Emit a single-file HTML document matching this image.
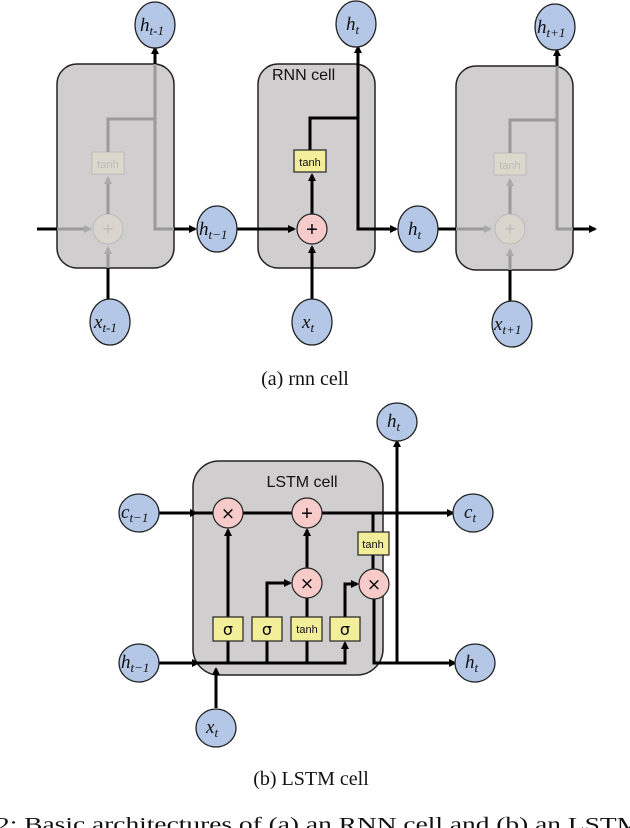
<!DOCTYPE html>
<html><head><meta charset="utf-8"><style>
html,body{margin:0;padding:0;background:#fff;width:630px;height:828px;overflow:hidden}
svg{display:block}
.c{fill:#b4c7e7;stroke:#222;stroke-width:1.3}
.lbl{font-family:"Liberation Serif",serif;font-style:italic;font-size:19px;fill:#111}
.sub{font-size:13px}
.box{fill:#d0cece;stroke:#222;stroke-width:1.5}
.y{fill:#f3ee9a;stroke:#222;stroke-width:1.2}
.p{fill:#f8cbcb;stroke:#222;stroke-width:1.2}
.k{stroke:#000;stroke-width:3;fill:none}
.g{stroke:#9a9a9a;stroke-width:3;fill:none}
.sm{font-family:"Liberation Sans",sans-serif;font-size:11px;fill:#111}
.cap{font-family:"Liberation Serif",serif;font-size:20px;fill:#111}
</style></head><body>
<svg width="630" height="828" viewBox="0 0 630 828" xmlns="http://www.w3.org/2000/svg">
<defs>
<marker id="a" markerWidth="8" markerHeight="8" refX="6" refY="4" orient="auto" markerUnits="userSpaceOnUse"><path d="M0,0 L8,4 L0,8z" fill="#000"/></marker>
<marker id="ga" markerWidth="8" markerHeight="8" refX="6" refY="4" orient="auto" markerUnits="userSpaceOnUse"><path d="M0,0 L8,4 L0,8z" fill="#aaa"/></marker>
</defs>
<rect class="box" x="57" y="64" width="117" height="204" rx="20"/>
<rect class="box" x="258" y="64" width="117" height="204" rx="20"/>
<rect class="box" x="456" y="66" width="117" height="204" rx="20"/>
<text x="272" y="80" font-family="Liberation Sans,sans-serif" font-size="16" fill="#111">RNN cell</text>
<line class="k" x1="37" y1="229" x2="57" y2="229"/>
<line class="g" x1="57" y1="229" x2="90" y2="229" marker-end="url(#ga)"/>
<circle cx="108" cy="229" r="15" fill="#d9d4cc" stroke="#bbb" stroke-width="1"/>
<text x="108" y="235" text-anchor="middle" font-size="18" fill="#bbb" font-family="Liberation Sans,sans-serif">+</text>
<line class="g" x1="108" y1="214" x2="108" y2="178" marker-end="url(#ga)"/>
<rect x="92" y="152" width="32" height="22" fill="#ddd8cc" stroke="#bbb"/>
<text x="108" y="168" text-anchor="middle" class="sm" style="fill:#bbb">tanh</text>
<polyline class="g" points="108,152 108,119 155,119"/>
<polyline class="g" points="155,64 155,229 174,229"/>
<line class="k" x1="174" y1="229" x2="195" y2="229" marker-end="url(#a)"/>
<line class="k" x1="155" y1="64" x2="155" y2="48" marker-end="url(#a)"/>
<line class="k" x1="108" y1="302" x2="108" y2="268"/>
<line class="g" x1="108" y1="268" x2="108" y2="248" marker-end="url(#ga)"/>
<line class="k" x1="236" y1="229" x2="294" y2="229" marker-end="url(#a)"/>
<line class="k" x1="312" y1="302" x2="312" y2="247" marker-end="url(#a)"/>
<line class="k" x1="312" y1="214" x2="312" y2="175" marker-end="url(#a)"/>
<polyline class="k" points="310,150 310,118 358,118"/>
<line class="k" x1="358" y1="118" x2="358" y2="47" marker-end="url(#a)"/>
<polyline class="k" points="358,118 358,229 396,229" marker-end="url(#a)"/>
<circle class="p" cx="312" cy="229" r="15"/>
<text x="312" y="236" text-anchor="middle" font-size="20" font-family="Liberation Sans,sans-serif">+</text>
<rect class="y" x="294" y="150" width="32" height="22"/>
<text x="310" y="166" text-anchor="middle" class="sm">tanh</text>
<line class="k" x1="438" y1="229" x2="456" y2="229"/>
<line class="g" x1="456" y1="229" x2="490" y2="229" marker-end="url(#ga)"/>
<circle cx="510" cy="229" r="15" fill="#d9d4cc" stroke="#bbb" stroke-width="1"/>
<text x="510" y="235" text-anchor="middle" font-size="18" fill="#bbb" font-family="Liberation Sans,sans-serif">+</text>
<line class="g" x1="510" y1="214" x2="510" y2="180" marker-end="url(#ga)"/>
<rect x="494" y="153" width="32" height="22" fill="#ddd8cc" stroke="#bbb"/>
<text x="510" y="169" text-anchor="middle" class="sm" style="fill:#bbb">tanh</text>
<polyline class="g" points="510,153 510,120 557,120"/>
<polyline class="g" points="557,66 557,229 573,229"/>
<line class="k" x1="573" y1="229" x2="595" y2="229" marker-end="url(#a)"/>
<line class="k" x1="557" y1="66" x2="557" y2="50" marker-end="url(#a)"/>
<line class="k" x1="510" y1="304" x2="510" y2="270"/>
<line class="g" x1="510" y1="270" x2="510" y2="250" marker-end="url(#ga)"/>
<g>
<ellipse class="c" cx="155" cy="25" rx="20" ry="23"/><text class="lbl" x="140" y="31">h<tspan class="sub" dy="4">t-1</tspan></text>
<ellipse class="c" cx="356" cy="24" rx="20" ry="23"/><text class="lbl" x="346" y="30">h<tspan class="sub" dy="4">t</tspan></text>
<ellipse class="c" cx="555" cy="27" rx="20" ry="23"/><text class="lbl" x="537" y="33">h<tspan class="sub" dy="4">t+1</tspan></text>
<ellipse class="c" cx="217" cy="229" rx="20" ry="23"/><text class="lbl" x="199" y="235">h<tspan class="sub" dy="4">t−1</tspan></text>
<ellipse class="c" cx="418" cy="229" rx="20" ry="23"/><text class="lbl" x="408" y="235">h<tspan class="sub" dy="4">t</tspan></text>
<ellipse class="c" cx="110" cy="322" rx="20" ry="23"/><text class="lbl" x="94" y="328">x<tspan class="sub" dy="4">t-1</tspan></text>
<ellipse class="c" cx="312" cy="322" rx="20" ry="23"/><text class="lbl" x="302" y="328">x<tspan class="sub" dy="4">t</tspan></text>
<ellipse class="c" cx="512" cy="324" rx="20" ry="23"/><text class="lbl" x="494" y="330">x<tspan class="sub" dy="4">t+1</tspan></text>
</g>
<text class="cap" x="305" y="385" text-anchor="middle">(a) rnn cell</text>
<rect class="box" x="193" y="461" width="190" height="214" rx="26"/>
<text x="302" y="487" text-anchor="middle" font-family="Liberation Sans,sans-serif" font-size="16" fill="#111">LSTM cell</text>
<line class="k" x1="159" y1="513" x2="196" y2="513" marker-end="url(#a)"/>
<line class="k" x1="196" y1="513" x2="453" y2="513" marker-end="url(#a)"/>
<polyline class="k" points="373,513 373,569"/>
<polyline class="k" points="374,599 374,663 455,663" marker-end="url(#a)"/>
<line class="k" x1="397" y1="663" x2="397" y2="441" marker-end="url(#a)"/>
<line class="k" x1="159" y1="663" x2="198" y2="663" marker-end="url(#a)"/>
<polyline class="k" points="198,663 345,663 345,643" marker-end="url(#a)"/>
<line class="k" x1="228" y1="663" x2="228" y2="641"/>
<line class="k" x1="228" y1="617" x2="228" y2="530" marker-end="url(#a)"/>
<line class="k" x1="267" y1="663" x2="267" y2="641"/>
<polyline class="k" points="267,617 267,583 290,583" marker-end="url(#a)"/>
<line class="k" x1="307" y1="663" x2="307" y2="641"/>
<line class="k" x1="307" y1="617" x2="307" y2="598"/>
<line class="k" x1="307" y1="568" x2="307" y2="530" marker-end="url(#a)"/>
<polyline class="k" points="345,617 345,584 357,584" marker-end="url(#a)"/>
<line class="k" x1="216" y1="708" x2="216" y2="669" marker-end="url(#a)"/>
<circle class="p" cx="228" cy="513" r="15"/><text x="228" y="519" text-anchor="middle" font-size="17" font-family="DejaVu Sans,sans-serif">×</text>
<circle class="p" cx="307" cy="513" r="15"/><text x="307" y="520" text-anchor="middle" font-size="20" font-family="Liberation Sans,sans-serif">+</text>
<circle class="p" cx="307" cy="583" r="15"/><text x="307" y="589" text-anchor="middle" font-size="17" font-family="DejaVu Sans,sans-serif">×</text>
<circle class="p" cx="374" cy="584" r="15"/><text x="374" y="590" text-anchor="middle" font-size="17" font-family="DejaVu Sans,sans-serif">×</text>
<rect class="y" x="358" y="532" width="31" height="23"/><text x="373" y="548" text-anchor="middle" class="sm">tanh</text>
<rect class="y" x="213" y="617" width="30" height="24"/><text x="228" y="635" text-anchor="middle" font-size="16" font-family="DejaVu Sans,sans-serif">σ</text>
<rect class="y" x="252" y="617" width="30" height="24"/><text x="267" y="635" text-anchor="middle" font-size="16" font-family="DejaVu Sans,sans-serif">σ</text>
<rect class="y" x="291" y="617" width="31" height="24"/><text x="307" y="633" text-anchor="middle" class="sm">tanh</text>
<rect class="y" x="330" y="617" width="30" height="24"/><text x="345" y="635" text-anchor="middle" font-size="16" font-family="DejaVu Sans,sans-serif">σ</text>
<ellipse class="c" cx="139" cy="513" rx="20" ry="19"/><text class="lbl" x="121" y="518">c<tspan class="sub" dy="4">t−1</tspan></text>
<ellipse class="c" cx="473" cy="513" rx="20" ry="19"/><text class="lbl" x="464" y="518">c<tspan class="sub" dy="4">t</tspan></text>
<ellipse class="c" cx="139" cy="663" rx="20" ry="19"/><text class="lbl" x="121" y="668">h<tspan class="sub" dy="4">t−1</tspan></text>
<ellipse class="c" cx="475" cy="663" rx="20" ry="19"/><text class="lbl" x="465" y="668">h<tspan class="sub" dy="4">t</tspan></text>
<ellipse class="c" cx="397" cy="422" rx="20" ry="19"/><text class="lbl" x="387" y="427">h<tspan class="sub" dy="4">t</tspan></text>
<ellipse class="c" cx="216" cy="728" rx="20" ry="19"/><text class="lbl" x="206" y="733">x<tspan class="sub" dy="4">t</tspan></text>
<text class="cap" x="311" y="785" text-anchor="middle">(b) LSTM cell</text>
<text class="cap" x="-4" y="831" font-size="24" textLength="645" lengthAdjust="spacingAndGlyphs">2: Basic architectures of (a) an RNN cell and (b) an LSTM</text>
</svg>
</body></html>
